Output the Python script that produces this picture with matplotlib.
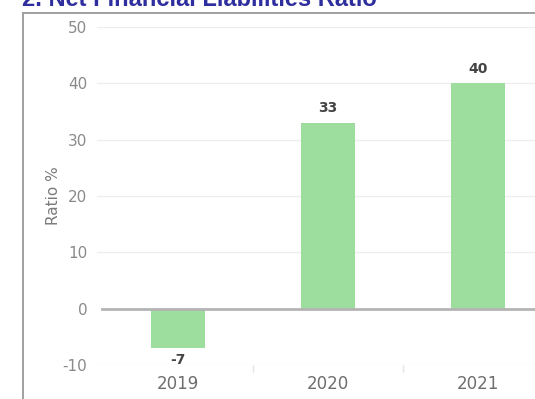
import matplotlib
matplotlib.use("Agg")
import matplotlib.pyplot as plt
from matplotlib.lines import Line2D

years = ["2019", "2020", "2021"]
ratios = [-7, 33, 40]
yticks = [-10, 0, 10, 20, 30, 40, 50]

W, H = 535, 399
fig = plt.figure(figsize=(W / 100, H / 100), dpi=100)
fig.patch.set_facecolor("white")

# section heading, partly cut off at the top of the page
fig.text(22 / W, 1 - 6.5 / H, "2. Net Financial Liabilities Ratio",
         fontsize=17, fontweight="bold", color="#2e2e9e",
         family="Liberation Sans", ha="left", va="baseline")

# box around the chart panel
fig.add_artist(Line2D([23 / W, 23 / W], [0, 1 - 12.5 / H],
                      transform=fig.transFigure, color="#a0a0a0", lw=1.4))
fig.add_artist(Line2D([23 / W, 1], [1 - 12.5 / H, 1 - 12.5 / H],
                      transform=fig.transFigure, color="#a0a0a0", lw=1.4))

left, right = 97 / W, 1.0
bottom, top = 1 - 365 / H, 1 - 27 / H
ax = fig.add_axes([left, bottom, right - left, top - bottom])
ax.set_ylim(-10, 50)
ax.set_xlim(-0.54, 2.38)

x = list(range(len(years)))
bars = ax.bar(x, ratios, width=0.36, color="#9ddd9d", zorder=2)

for v in yticks:
    if v == 0:
        continue
    ax.axhline(v, color="#eeeeee", lw=0.9, zorder=1)
ax.plot([0.012, 1], [0, 0], transform=ax.get_yaxis_transform(),
        color="#b4b4b4", lw=2, zorder=3)

for xi, v in zip(x, ratios):
    if v >= 0:
        ax.text(xi, v + 1.3, str(v), ha="center", va="bottom",
                fontsize=10, fontweight="semibold", color="#444444")
    else:
        ax.text(xi, v - 0.8, str(v), ha="center", va="top",
                fontsize=10, fontweight="semibold", color="#444444")

for s in ax.spines.values():
    s.set_visible(False)
ax.set_yticks(yticks)
ax.set_yticklabels([str(v) for v in yticks])
ax.tick_params(axis="y", length=0, pad=7, labelsize=11, labelcolor="#8a8a8a")
ax.set_xticks(x)
ax.set_xticklabels(years)
ax.tick_params(axis="x", length=0, pad=7, labelsize=12, labelcolor="#6e6e6e")
ax.set_xticks([0.5, 1.5], minor=True)
ax.tick_params(axis="x", which="minor", length=5, width=1, color="#e4e4e4")
ax.set_ylabel("Ratio %", fontsize=11, color="#7a7a7a", labelpad=1)

fig.savefig("out.png", dpi=100, facecolor="white")
